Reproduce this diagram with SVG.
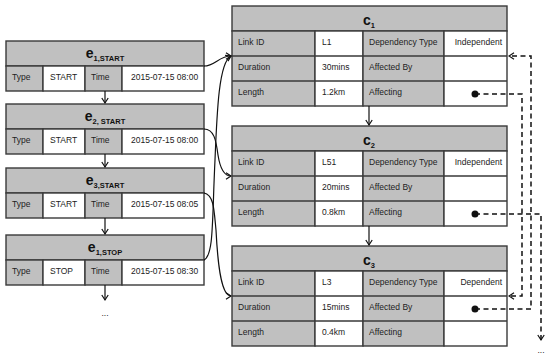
<svg xmlns="http://www.w3.org/2000/svg" width="550" height="356" viewBox="0 0 550 356">
<style>
.g{fill:#c0c0c0;stroke:#3a3a3a;stroke-width:1.4}
.w{fill:#ffffff;stroke:#3a3a3a;stroke-width:1.4}
.t{font-family:"Liberation Sans",Arial,sans-serif;font-size:8.5px;fill:#222}
.h{font-family:"Liberation Sans",Arial,sans-serif;font-weight:bold;font-size:14px;fill:#111}
.s{font-size:7.5px}
.cn{fill:none;stroke:#111;stroke-width:1.2}
.d{fill:none;stroke:#111;stroke-width:1.5;stroke-dasharray:5,3.5}
.e{text-anchor:end}
</style>
<defs>
<marker id="a" markerWidth="8" markerHeight="8" refX="6" refY="4" orient="auto" markerUnits="userSpaceOnUse">
<path d="M1,0.8 L6,4 L1,7.2" fill="none" stroke="#111" stroke-width="1.2"/>
</marker>
</defs>
<rect width="550" height="356" fill="#fff"/>

<g id="e1">
<rect class="g" x="6" y="41" width="198" height="25"/>
<rect class="g" x="6" y="66" width="37" height="25"/>
<rect class="w" x="43" y="66" width="42" height="25"/>
<rect class="g" x="85" y="66" width="37" height="25"/>
<rect class="w" x="122" y="66" width="82" height="25"/>
<text class="h" x="105" y="58" text-anchor="middle">e<tspan class="s" dy="3">1,START</tspan></text>
<text class="t" x="12" y="80">Type</text>
<text class="t" x="50" y="80">START</text>
<text class="t" x="91" y="80">Time</text>
<text class="t" x="131" y="80">2015-07-15 08:00</text>
</g>

<g id="e2">
<rect class="g" x="6" y="104" width="198" height="25"/>
<rect class="g" x="6" y="129" width="37" height="25"/>
<rect class="w" x="43" y="129" width="42" height="25"/>
<rect class="g" x="85" y="129" width="37" height="25"/>
<rect class="w" x="122" y="129" width="82" height="25"/>
<text class="h" x="105" y="121" text-anchor="middle">e<tspan class="s" dy="3">2, START</tspan></text>
<text class="t" x="12" y="143">Type</text>
<text class="t" x="50" y="143">START</text>
<text class="t" x="91" y="143">Time</text>
<text class="t" x="131" y="143">2015-07-15 08:00</text>
</g>

<g id="e3">
<rect class="g" x="6" y="168" width="198" height="25"/>
<rect class="g" x="6" y="193" width="37" height="25"/>
<rect class="w" x="43" y="193" width="42" height="25"/>
<rect class="g" x="85" y="193" width="37" height="25"/>
<rect class="w" x="122" y="193" width="82" height="25"/>
<text class="h" x="105" y="185" text-anchor="middle">e<tspan class="s" dy="3">3,START</tspan></text>
<text class="t" x="12" y="207">Type</text>
<text class="t" x="50" y="207">START</text>
<text class="t" x="91" y="207">Time</text>
<text class="t" x="131" y="207">2015-07-15 08:05</text>
</g>

<g id="e4">
<rect class="g" x="6" y="235" width="198" height="25"/>
<rect class="g" x="6" y="260" width="37" height="25"/>
<rect class="w" x="43" y="260" width="42" height="25"/>
<rect class="g" x="85" y="260" width="37" height="25"/>
<rect class="w" x="122" y="260" width="82" height="25"/>
<text class="h" x="105" y="252" text-anchor="middle">e<tspan class="s" dy="3">1,STOP</tspan></text>
<text class="t" x="12" y="274">Type</text>
<text class="t" x="50" y="274">STOP</text>
<text class="t" x="91" y="274">Time</text>
<text class="t" x="131" y="274">2015-07-15 08:30</text>
</g>

<g id="c1">
<rect class="g" x="232" y="6" width="275" height="25"/>
<rect class="g" x="232" y="31" width="83" height="75"/>
<rect class="w" x="315" y="31" width="48" height="75"/>
<rect class="g" x="363" y="31" width="81" height="75"/>
<rect class="w" x="444" y="31" width="63" height="75"/>
<path class="w" d="M232,56 H507 M232,81 H507"/>
<text class="h" x="369" y="25" text-anchor="middle">c<tspan class="s" dy="3">1</tspan></text>
<text class="t" x="238" y="45">Link ID</text>
<text class="t" x="322" y="45">L1</text>
<text class="t" x="369" y="45">Dependency Type</text>
<text class="t e" x="502" y="45">Independent</text>
<text class="t" x="238" y="70">Duration</text>
<text class="t" x="322" y="70">30mins</text>
<text class="t" x="369" y="70">Affected By</text>
<text class="t" x="238" y="95">Length</text>
<text class="t" x="322" y="95">1.2km</text>
<text class="t" x="369" y="95">Affecting</text>
</g>

<g id="c2">
<rect class="g" x="232" y="126" width="275" height="25"/>
<rect class="g" x="232" y="151" width="83" height="75"/>
<rect class="w" x="315" y="151" width="48" height="75"/>
<rect class="g" x="363" y="151" width="81" height="75"/>
<rect class="w" x="444" y="151" width="63" height="75"/>
<path class="w" d="M232,176 H507 M232,201 H507"/>
<text class="h" x="369" y="145" text-anchor="middle">c<tspan class="s" dy="3">2</tspan></text>
<text class="t" x="238" y="165">Link ID</text>
<text class="t" x="322" y="165">L51</text>
<text class="t" x="369" y="165">Dependency Type</text>
<text class="t e" x="502" y="165">Independent</text>
<text class="t" x="238" y="190">Duration</text>
<text class="t" x="322" y="190">20mins</text>
<text class="t" x="369" y="190">Affected By</text>
<text class="t" x="238" y="215">Length</text>
<text class="t" x="322" y="215">0.8km</text>
<text class="t" x="369" y="215">Affecting</text>
</g>

<g id="c3">
<rect class="g" x="232" y="246" width="275" height="25"/>
<rect class="g" x="232" y="271" width="83" height="75"/>
<rect class="w" x="315" y="271" width="48" height="75"/>
<rect class="g" x="363" y="271" width="81" height="75"/>
<rect class="w" x="444" y="271" width="63" height="75"/>
<path class="w" d="M232,296 H507 M232,321 H507"/>
<text class="h" x="369" y="265" text-anchor="middle">c<tspan class="s" dy="3">3</tspan></text>
<text class="t" x="238" y="285">Link ID</text>
<text class="t" x="322" y="285">L3</text>
<text class="t" x="369" y="285">Dependency Type</text>
<text class="t e" x="502" y="285">Dependent</text>
<text class="t" x="238" y="310">Duration</text>
<text class="t" x="322" y="310">15mins</text>
<text class="t" x="369" y="310">Affected By</text>
<text class="t" x="238" y="335">Length</text>
<text class="t" x="322" y="335">0.4km</text>
<text class="t" x="369" y="335">Affecting</text>
</g>

<g id="connectors">
<path class="cn" d="M105,91 V103" marker-end="url(#a)"/>
<path class="cn" d="M105,154 V167" marker-end="url(#a)"/>
<path class="cn" d="M105,218 V234" marker-end="url(#a)"/>
<path class="cn" d="M105,285 V300" marker-end="url(#a)"/>
<path class="cn" d="M369,106 V125" marker-end="url(#a)"/>
<path class="cn" d="M369,226 V245" marker-end="url(#a)"/>
<path class="cn" d="M204,66 C215,66 219,56 231,56" marker-end="url(#a)"/>
<path class="cn" d="M204,260 C214,255 212,220 215,160 C217,110 219,62 231,56" marker-end="url(#a)"/>
<path class="cn" d="M204,129 C214,129 216,140 218,155 C220,168 224,176 231,176" marker-end="url(#a)"/>
<path class="cn" d="M204,193 C214,195 214,210 216,230 C218,270 222,296 231,296" marker-end="url(#a)"/>
<path class="d" d="M475,94 H522 V296 H509" marker-end="url(#a)"/>
<path class="d" d="M475,309 H531 V56 H509" marker-end="url(#a)"/>
<path class="d" d="M475,214 H541 V340" marker-end="url(#a)"/>
<circle cx="475" cy="94" r="3.5" fill="#111"/>
<circle cx="475" cy="214" r="3.5" fill="#111"/>
<circle cx="475" cy="309" r="3.5" fill="#111"/>
</g>
<text class="t" x="105" y="316" text-anchor="middle">...</text>
<text class="t" x="541" y="353" text-anchor="middle">...</text>
</svg>
